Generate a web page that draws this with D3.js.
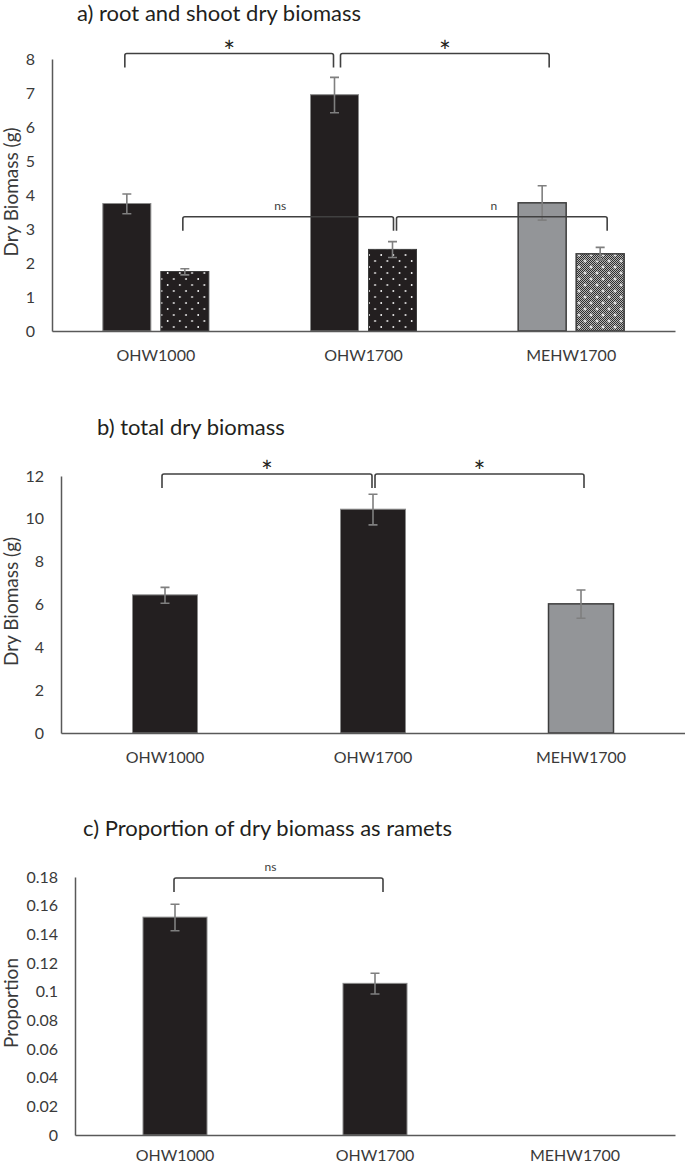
<!DOCTYPE html>
<html>
<head>
<meta charset="utf-8">
<script src="https://cdn.jsdelivr.net/npm/d3@7"></script>
<style>
  html, body { margin: 0; padding: 0; background: #fff; }
  svg { display: block; font-family: Lato, "Open Sans", sans-serif; }
</style>
</head>
<body>
<svg id="chart" width="685" height="1165"></svg>
<script>
// ---------------- DATA ----------------
const categories = ["OHW1000", "OHW1700", "MEHW1700"];

// a) root and shoot dry biomass (g)
const rootMean  = [3.75, 6.95, 3.77];
const rootLow   = [3.45, 6.42, 3.26];
const rootHigh  = [4.03, 7.46, 4.27];
const shootMean = [1.75, 2.40, 2.27];
const shootLow  = [1.65, 2.16, 2.09];
const shootHigh = [1.83, 2.63, 2.46];

// b) total dry biomass (g)
const totalMean = [6.45, 10.45, 6.03];
const totalLow  = [6.06, 9.72, 5.36];
const totalHigh = [6.80, 11.15, 6.68];

// c) proportion of dry biomass as ramets
const propMean = [0.152, 0.1058, 0];
const propLow  = [0.1425, 0.0984, 0];
const propHigh = [0.161, 0.1128, 0];

// tick values
const ticksA = [0, 1, 2, 3, 4, 5, 6, 7, 8];
const ticksB = [0, 2, 4, 6, 8, 10, 12];
const ticksC = [0, 0.02, 0.04, 0.06, 0.08, 0.1, 0.12, 0.14, 0.16, 0.18];

// titles
const titleA = "a) root and shoot dry biomass";
const titleB = "b) total dry biomass";
const titleC = "c) Proportion of dry biomass as ramets";
const yLabelA = "Dry Biomass (g)";
const yLabelB = "Dry Biomass (g)";
const yLabelC = "Proportion";

// significance brackets: [fromCategory, fromSeries, toCategory, toSeries, level, label]
const bracketsA = [
  ["OHW1000", "root",  "OHW1700",  "root",  8.16, "*"],
  ["OHW1700", "root",  "MEHW1700", "root",  8.16, "*"],
  ["OHW1000", "shoot", "OHW1700",  "shoot", 3.36, "ns"],
  ["OHW1700", "shoot", "MEHW1700", "shoot", 3.36, "n"]
];
const bracketsB = [
  ["OHW1000", "total", "OHW1700",  "total", 12.09, "*"],
  ["OHW1700", "total", "MEHW1700", "total", 12.09, "*"]
];
const bracketsC = [
  ["OHW1000", "prop", "OHW1700", "prop", 0.1793, "ns"]
];

// ---------------- STYLE ----------------
const C_BLACK = "#231f20";
const C_GRAY = "#939598";
const C_AXIS = "#595959";
const C_TEXT = "#3a3a3a";
const C_ERR = "#7f7f7f";
const C_BRACKET = "#404040";

const svg = d3.select("#chart");
const defs = svg.append("defs");

// dotted pattern (black with white dots)
const pDots = defs.append("pattern").attr("id", "dots")
  .attr("patternUnits", "userSpaceOnUse").attr("width", 12.2).attr("height", 12);
pDots.append("rect").attr("width", 12.2).attr("height", 12).attr("fill", C_BLACK);
pDots.append("circle").attr("cx", 3).attr("cy", 3).attr("r", 0.9).attr("fill", "#fff");
pDots.append("circle").attr("cx", 9.1).attr("cy", 9).attr("r", 0.9).attr("fill", "#fff");

// fine checker for crosshatch
const pChk = defs.append("pattern").attr("id", "chk")
  .attr("patternUnits", "userSpaceOnUse").attr("width", 2).attr("height", 2);
pChk.append("rect").attr("width", 2).attr("height", 2).attr("fill", "#b4b4b4");
pChk.append("rect").attr("width", 1).attr("height", 1).attr("fill", "#2e2e2e");
pChk.append("rect").attr("x", 1).attr("y", 1).attr("width", 1).attr("height", 1).attr("fill", "#2e2e2e");

const pCross = defs.append("pattern").attr("id", "cross")
  .attr("patternUnits", "userSpaceOnUse").attr("width", 12).attr("height", 12);
pCross.append("rect").attr("width", 12).attr("height", 12).attr("fill", "url(#chk)");
[[3, 3], [9, 9]].forEach(([cx, cy]) => {
  pCross.append("path")
    .attr("d", `M${cx - 1.5},${cy}H${cx + 1.5}M${cx},${cy - 1.5}V${cy + 1.5}`)
    .attr("stroke", "#fff").attr("stroke-width", 1);
});

const fills = {
  black: { fill: C_BLACK, stroke: "#8a8a8a", sw: 1 },
  gray:  { fill: C_GRAY,  stroke: "#3d3d3d", sw: 1.5 },
  dots:  { fill: "url(#dots)", stroke: "#3d3d3d", sw: 1 },
  cross: { fill: "url(#cross)", stroke: "#3d3d3d", sw: 1.5 }
};

// ---------------- PANEL BUILDER ----------------
function panel(cfg) {
  const g = svg.append("g");
  const x = d3.scaleBand().domain(categories).range(cfg.xRange).padding(0);
  const y = d3.scaleLinear().domain(cfg.yDomain).range(cfg.yRange);

  const centre = c => x(c) + x.bandwidth() / 2;
  const seriesX = (c, s) => centre(c) + cfg.seriesOffset[s] - cfg.barWidth / 2;
  const seriesC = (c, s) => centre(c) + cfg.seriesOffset[s];

  // title
  g.append("text").attr("x", cfg.titlePos[0]).attr("y", cfg.titlePos[1])
    .attr("font-size", 22).attr("fill", "#231f20").text(cfg.title);

  // y axis
  const ya = g.append("g").attr("transform", `translate(${cfg.xRange[0]},0)`)
    .call(d3.axisLeft(y).tickValues(cfg.ticks).tickSize(0).tickPadding(17).tickFormat(d => String(d)));
  ya.select(".domain").attr("stroke", C_AXIS).attr("stroke-width", 1.5);
  ya.selectAll("text").attr("font-size", 16).attr("fill", C_TEXT).attr("font-family", "Lato, sans-serif");

  // y label
  const midY = (cfg.yRange[0] + cfg.yRange[1]) / 2 - 3;
  g.append("text").attr("transform", `translate(18,${midY}) rotate(-90)`)
    .attr("text-anchor", "middle").attr("font-size", 19).attr("fill", C_TEXT).text(cfg.yLabel);

  // bars
  cfg.series.forEach(s => {
    categories.forEach((c, i) => {
      const f = fills[s.fill[i]];
      const v = s.mean[i];
      g.append("rect")
        .attr("x", seriesX(c, s.key)).attr("width", cfg.barWidth)
        .attr("y", y(v)).attr("height", Math.max(0, y(0) - y(v)))
        .attr("fill", f.fill).attr("stroke", f.stroke).attr("stroke-width", f.sw);
    });
  });

  // x axis (drawn after bars)
  const xa = g.append("g").attr("transform", `translate(0,${cfg.yRange[0]})`)
    .call(d3.axisBottom(x).tickSize(0).tickSizeOuter(0).tickPadding(cfg.xPad));
  xa.select(".domain").attr("stroke", C_AXIS).attr("stroke-width", 1.5);
  xa.selectAll("text").attr("font-size", 16).attr("fill", C_TEXT).attr("font-family", "Lato, sans-serif");

  // error bars
  cfg.series.forEach(s => {
    categories.forEach((c, i) => {
      if (s.high[i] === s.low[i]) return;
      const cx = seriesC(c, s.key);
      const y1 = y(s.high[i]), y2 = y(s.low[i]);
      g.append("path")
        .attr("d", `M${cx},${y1}V${y2}M${cx - 4.5},${y1}H${cx + 4.5}M${cx - 4.5},${y2}H${cx + 4.5}`)
        .attr("stroke", C_ERR).attr("stroke-width", 1.6).attr("fill", "none");
    });
  });

  // brackets
  cfg.brackets.forEach((b, k) => {
    const shift = cfg.bracketShift[k];
    const x1 = seriesC(b[0], b[1]) + shift[0];
    const x2 = seriesC(b[2], b[3]) + shift[1];
    const yl = y(b[4]);
    g.append("path")
      .attr("d", `M${x1},${yl + 14}V${yl + 2}Q${x1},${yl} ${x1 + 2},${yl}H${x2 - 2}Q${x2},${yl} ${x2},${yl + 2}V${yl + 14}`)
      .attr("stroke", C_BRACKET).attr("stroke-width", 1.6).attr("fill", "none");
    const isStar = b[5] === "*";
    g.append("text")
      .attr("x", (x1 + x2) / 2 + (isStar ? 0 : -8))
      .attr("y", isStar ? yl + 8 : yl - 7)
      .attr("text-anchor", "middle")
      .attr("font-size", isStar ? 28 : 12)
      .attr("fill", isStar ? "#231f20" : C_BRACKET)
      .text(b[5]);
  });
}

panel({
  title: titleA, titlePos: [77, 21], yLabel: yLabelA,
  xRange: [52, 675], yDomain: [0, 8], yRange: [331, 59], ticks: ticksA, xPad: 19,
  barWidth: 48, seriesOffset: { root: -29, shoot: 29 },
  series: [
    { key: "root",  mean: rootMean,  low: rootLow,  high: rootHigh,  fill: ["black", "black", "gray"] },
    { key: "shoot", mean: shootMean, low: shootLow, high: shootHigh, fill: ["dots", "dots", "cross"] }
  ],
  brackets: bracketsA,
  bracketShift: [[-2, -1], [6, 7], [-2, 1], [4, 7]]
});

panel({
  title: titleB, titlePos: [97, 435], yLabel: yLabelB,
  xRange: [61, 685], yDomain: [0, 12], yRange: [733, 476], ticks: ticksB, xPad: 19,
  barWidth: 65, seriesOffset: { total: 0 },
  series: [
    { key: "total", mean: totalMean, low: totalLow, high: totalHigh, fill: ["black", "black", "gray"] }
  ],
  brackets: bracketsB,
  bracketShift: [[-3, -1], [2, 3]]
});

panel({
  title: titleC, titlePos: [83, 836], yLabel: yLabelC,
  xRange: [75, 675], yDomain: [0, 0.18], yRange: [1135, 877], ticks: ticksC, xPad: 15,
  barWidth: 64, seriesOffset: { prop: 0 },
  series: [
    { key: "prop", mean: propMean, low: propLow, high: propHigh, fill: ["black", "black", "black"] }
  ],
  brackets: bracketsC,
  bracketShift: [[-1, 8]]
});
</script>
</body>
</html>
